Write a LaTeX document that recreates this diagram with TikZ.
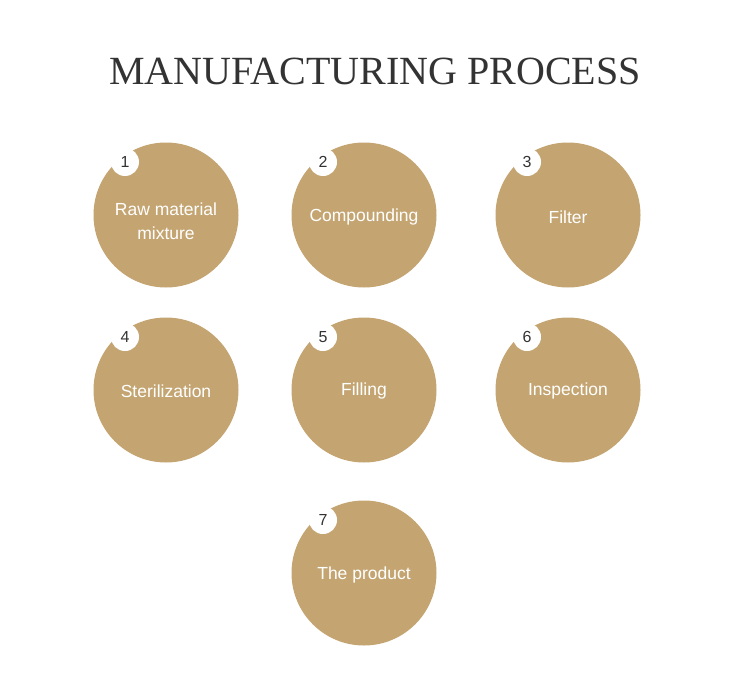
\documentclass[tikz,border=0pt]{standalone}
\usepackage{fontspec}
\setmainfont{Liberation Sans}
\newfontfamily\titlefont{Liberation Serif}
\definecolor{tan}{HTML}{C4A572}
\definecolor{ink}{HTML}{333333}
\begin{document}
\begin{tikzpicture}[x=1pt,y=-1pt,
  stepcircle/.style={circle,fill=tan,minimum size=145pt,inner sep=0pt},
  steptext/.style={text=white,font=\fontsize{17.5}{24}\selectfont,align=center,inner sep=0pt},
  numcircle/.style={circle,fill=white,minimum size=28pt,inner sep=0pt,text=ink,
    font=\fontsize{16}{16}\selectfont}]
\useasboundingbox[fill=white] (0,0) rectangle (750,680);
\node[text=ink,font=\titlefont\fontsize{40}{40}\selectfont] (title) at (375,71) {MANUFACTURING PROCESS};
\foreach \i/\x/\y/\dy/\t in {1/166/215/6/{Raw material\\mixture},2/364/215/2/Compounding,3/568/215/2/Filter,
  4/166/390/1/Sterilization,5/364/390/1/Filling,6/568/390/1/Inspection,7/364/573/2/The product}{
  \node[stepcircle] (s\i) at (\x,\y) {};
  \node[steptext] (t\i) at ([yshift=-\dy pt]s\i.center) {\t};
  \node[numcircle] (n\i) at ([shift={(-41,-53)}]s\i.center) {\i};
}
\end{tikzpicture}
\end{document}
